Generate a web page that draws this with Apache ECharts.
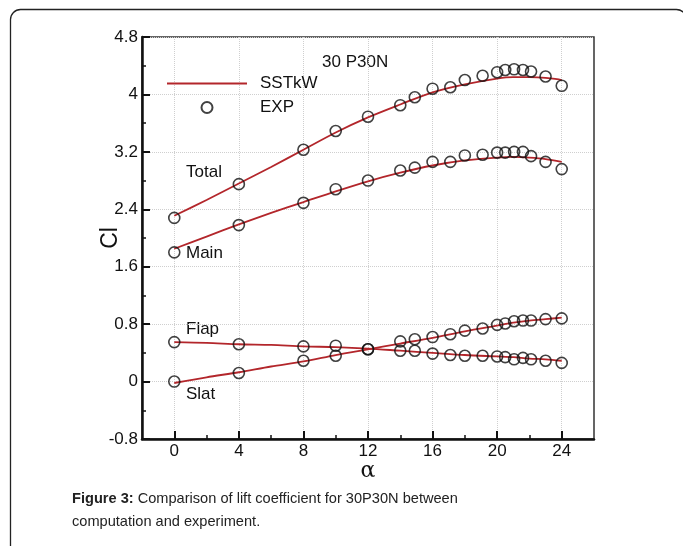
<!DOCTYPE html>
<html>
<head>
<meta charset="utf-8">
<script src="https://cdn.jsdelivr.net/npm/echarts@6/dist/echarts.min.js"></script>
<style>
  html, body { margin: 0; padding: 0; background: #fff; }
  #chart { width: 683px; height: 546px; }
</style>
</head>
<body>
<div id="chart"></div>
<script>
// angle of attack of the wind tunnel points
const alphaExp = [0, 4, 8, 10, 12, 14, 14.9, 16, 17.1, 18, 19.1, 20, 20.5, 21.05, 21.6, 22.1, 23, 24];
const totalExp = [2.28, 2.75, 3.23, 3.49, 3.69, 3.85, 3.96, 4.08, 4.10, 4.20, 4.26, 4.31, 4.34, 4.35, 4.34, 4.32, 4.25, 4.12];
const mainExp = [1.80, 2.18, 2.49, 2.68, 2.80, 2.94, 2.98, 3.06, 3.06, 3.15, 3.16, 3.19, 3.19, 3.20, 3.20, 3.14, 3.06, 2.96];
const flapExp = [0.55, 0.52, 0.49, 0.50, 0.45, 0.43, 0.43, 0.39, 0.37, 0.36, 0.36, 0.35, 0.34, 0.31, 0.33, 0.31, 0.29, 0.26];
const slatExp = [0.00, 0.12, 0.29, 0.36, 0.45, 0.56, 0.59, 0.62, 0.66, 0.71, 0.74, 0.79, 0.81, 0.84, 0.85, 0.85, 0.87, 0.88];

// SSTkW computation
const alphaCfd = [0, 2, 4, 6, 8, 10, 12, 14, 16, 18, 20, 21, 22, 23, 24];
const totalCfd = [2.31, 2.53, 2.76, 2.99, 3.23, 3.47, 3.68, 3.86, 4.03, 4.14, 4.22, 4.24, 4.24, 4.23, 4.20];
const mainCfd = [1.85, 2.02, 2.19, 2.35, 2.50, 2.65, 2.79, 2.91, 3.01, 3.08, 3.12, 3.13, 3.12, 3.10, 3.06];
const flapCfd = [0.55, 0.54, 0.52, 0.51, 0.49, 0.48, 0.46, 0.43, 0.40, 0.37, 0.35, 0.34, 0.32, 0.31, 0.29];
const slatCfd = [-0.02, 0.06, 0.13, 0.21, 0.28, 0.37, 0.45, 0.53, 0.61, 0.70, 0.78, 0.82, 0.85, 0.87, 0.89];

const xMajorTicks = [0, 4, 8, 12, 16, 20, 24];
const xMinorTicks = [2, 6, 10, 14, 18, 22];

const FONT = '"Liberation Sans", Arial, sans-serif';
const RED = '#b3262b';

function pairs(xs, ys) {
  return xs.map((x, i) => [x, ys[i]]);
}

function cfdSeries(ys) {
  return {
    name: 'SSTkW',
    type: 'line',
    data: pairs(alphaCfd, ys),
    symbol: 'none',
    smooth: 0.3,
    lineStyle: { color: RED, width: 1.8 },
    itemStyle: { color: RED },
    z: 3
  };
}

function expSeries(ys) {
  return {
    name: 'EXP',
    type: 'scatter',
    data: pairs(alphaExp, ys),
    symbol: 'circle',
    symbolSize: 11,
    itemStyle: { color: 'rgba(0,0,0,0)', borderColor: '#111', borderWidth: 1.6 },
    z: 4
  };
}

function note(text, x, y, size) {
  return {
    type: 'text',
    left: x,
    top: y,
    style: { text: text, font: (size || 17) + 'px ' + FONT, fill: '#111' }
  };
}

const chart = echarts.init(document.getElementById('chart'));
chart.setOption({
  animation: false,
  textStyle: { fontFamily: FONT },
  grid: {
    left: 142, right: 89, top: 37, bottom: 107,
    show: true, borderColor: '#333', borderWidth: 1.5,
    outerBoundsMode: 'none'
  },
  legend: {
    orient: 'vertical',
    left: 167,
    top: 75,
    padding: 0,
    itemWidth: 80,
    itemHeight: 11,
    itemGap: 7,
    textStyle: { fontSize: 17, color: '#111', padding: [0, 0, 0, 8] },
    data: [
      { name: 'SSTkW', icon: 'path://M0,0L80,0L80,2L0,2Z' },
      { name: 'EXP' }
    ]
  },
  xAxis: [
    {
      type: 'value',
      min: -2,
      max: 26,
      name: 'α',
      nameLocation: 'middle',
      nameGap: 21,
      nameMoveOverlap: false,
      nameTextStyle: { fontSize: 22, color: '#111', fontFamily: 'DejaVu Serif' },
      axisLine: { onZero: false, lineStyle: { color: '#111', width: 2.5 } },
      axisTick: { inside: true, length: 8, customValues: xMajorTicks, lineStyle: { color: '#111', width: 2 } },
      axisLabel: { customValues: xMajorTicks, fontSize: 17, color: '#111', margin: 4 },
      splitLine: { show: true, lineStyle: { color: '#cfcfcf', type: 'dotted', width: 1 } }
    },
    {
      type: 'value',
      min: -2,
      max: 26,
      position: 'bottom',
      axisLine: { show: false, onZero: false },
      axisTick: { inside: true, length: 4, customValues: xMinorTicks, lineStyle: { color: '#111', width: 1.5 } },
      axisLabel: { show: false },
      splitLine: { show: false }
    }
  ],
  yAxis: {
    type: 'value',
    min: -0.8,
    max: 4.8,
    interval: 0.8,
    name: 'Cl',
    nameLocation: 'middle',
    nameRotate: 90,
    nameGap: 20,
    nameMoveOverlap: false,
    nameTextStyle: { fontSize: 23, color: '#111' },
    axisLine: { show: true, onZero: false, lineStyle: { color: '#111', width: 2.5 } },
    axisTick: { show: true, inside: true, length: 8, lineStyle: { color: '#111', width: 2 } },
    minorTick: { show: true, splitNumber: 2, length: 4, lineStyle: { color: '#111', width: 1.5 } },
    axisLabel: {
      fontSize: 17, color: '#111', margin: 4,
      formatter: v => String(+v.toFixed(1))
    },
    splitLine: { show: true, lineStyle: { color: '#cfcfcf', type: 'dotted', width: 1 } }
  },
  series: [
    cfdSeries(totalCfd), cfdSeries(mainCfd), cfdSeries(flapCfd), cfdSeries(slatCfd),
    expSeries(totalExp), expSeries(mainExp), expSeries(flapExp), expSeries(slatExp)
  ],
  graphic: [
    {
      type: 'rect',
      left: 8,
      top: 7,
      shape: { width: 676, height: 600, r: 10 },
      style: { fill: 'none', stroke: '#222', lineWidth: 1.3 },
      silent: true
    },
    note('30 P30N', 322, 54, 17),
    note('Total', 186, 164),
    note('Main', 186, 245),
    note('Flap', 186, 321),
    note('Slat', 186, 386),
    {
      type: 'text',
      left: 72,
      top: 487,
      style: {
        text: '{b|Figure 3:} Comparison of lift coefficient for 30P30N between\ncomputation and experiment.',
        font: '14.6px ' + FONT,
        fill: '#222',
        lineHeight: 23,
        rich: {
          b: { fontWeight: 'bold', fontSize: 14.6, fontFamily: FONT, fill: '#222', lineHeight: 23 }
        }
      }
    }
  ]
});
</script>
</body>
</html>
